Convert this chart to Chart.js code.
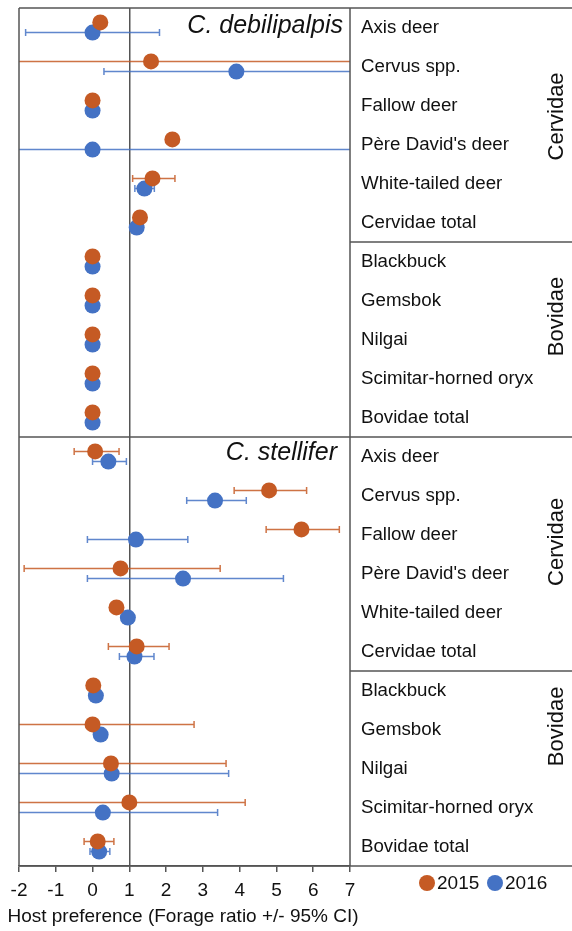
<!DOCTYPE html>
<html>
<head>
<meta charset="utf-8">
<script src="https://cdn.jsdelivr.net/npm/chart.js@4.4.1/dist/chart.umd.min.js"></script>
<style>
  html, body { margin: 0; padding: 0; background: #fff; }
  canvas { display: block; }
</style>
</head>
<body>
<canvas id="c" width="572" height="931"></canvas>
<script>
// ---- data ----
const categories = ['Axis deer', 'Cervus spp.', 'Fallow deer', "Père David's deer", 'White-tailed deer', 'Cervidae total',
                    'Blackbuck', 'Gemsbok', 'Nilgai', 'Scimitar-horned oryx', 'Bovidae total'];
const species = ['C. debilipalpis', 'C. stellifer'];
const families = ['Cervidae', 'Bovidae'];
const years = ['2015', '2016'];
const xTicks = [-2, -1, 0, 1, 2, 3, 4, 5, 6, 7];
const xTitle = 'Host preference (Forage ratio +/- 95% CI)';

// C. debilipalpis
const deb2015   = [0.21, 1.59, 0, 2.17, 1.63, 1.29, 0, 0, 0, 0, 0];
const deb2015Lo = [null, -3, null, null, 1.09, null, null, null, null, null, null];
const deb2015Hi = [null, 8, null, null, 2.24, null, null, null, null, null, null];
const deb2016   = [0, 3.91, 0, 0, 1.41, 1.2, 0, 0, 0, 0, 0];
const deb2016Lo = [-1.82, 0.31, null, -3, 1.15, null, null, null, null, null, null];
const deb2016Hi = [1.82, 8, null, 8, 1.68, null, null, null, null, null, null];

// C. stellifer
const st2015   = [0.07, 4.8, 5.68, 0.76, 0.65, 1.2, 0.02, 0, 0.5, 1.0, 0.14];
const st2015Lo = [-0.5, 3.85, 4.72, -1.86, null, 0.43, null, -3, -3, -3, -0.23];
const st2015Hi = [0.72, 5.82, 6.71, 3.47, null, 2.08, null, 2.76, 3.63, 4.15, 0.58];
const st2016   = [0.43, 3.33, 1.18, 2.46, 0.96, 1.14, 0.09, 0.22, 0.52, 0.28, 0.18];
const st2016Lo = [0, 2.56, -0.14, -0.14, null, 0.73, null, null, -3, -3, -0.07];
const st2016Hi = [0.92, 4.18, 2.59, 5.19, null, 1.67, null, null, 3.7, 3.4, 0.47];

// ---- build ----
const nRows = categories.length;
const rowLabels = categories.concat(categories);
const OFF = 0.13;
function pts(a, b, off) {
  return a.concat(b).map((v, i) => ({ x: v, y: i + 0.5 + off }));
}
const lo2015 = deb2015Lo.concat(st2015Lo), hi2015 = deb2015Hi.concat(st2015Hi);
const lo2016 = deb2016Lo.concat(st2016Lo), hi2016 = deb2016Hi.concat(st2016Hi);

const ORANGE = '#C55A24', BLUE = '#4472C4', LINE = '#555555', TXT = '#111111';
const FONT = "'Liberation Sans', Arial, sans-serif";

const errorBars = {
  id: 'errorBars',
  beforeDatasetsDraw(chart) {
    const { ctx, chartArea: a, scales: { x, y } } = chart;
    ctx.save();
    ctx.beginPath();
    ctx.rect(a.left, a.top, a.right - a.left, a.bottom - a.top);
    ctx.clip();
    chart.data.datasets.forEach(ds => {
      ctx.strokeStyle = ds.backgroundColor;
      ctx.globalAlpha = 0.85;
      ctx.lineWidth = 1.5;
      ds.data.forEach((p, i) => {
        const lo = ds.errLo[i], hi = ds.errHi[i];
        if (lo == null || hi == null) return;
        const py = y.getPixelForValue(p.y);
        const x1 = x.getPixelForValue(lo), x2 = x.getPixelForValue(hi);
        ctx.beginPath();
        ctx.moveTo(x1, py); ctx.lineTo(x2, py);
        [x1, x2].forEach(px => { ctx.moveTo(px, py - 3.5); ctx.lineTo(px, py + 3.5); });
        ctx.stroke();
      });
    });
    ctx.restore();
  }
};

const frame = {
  id: 'frame',
  afterDraw(chart) {
    const { ctx, chartArea: a, scales: { x, y }, width } = chart;
    ctx.save();
    ctx.strokeStyle = LINE;
    ctx.lineWidth = 1.5;
    const h = (yy, x0, x1) => { ctx.beginPath(); ctx.moveTo(x0, yy); ctx.lineTo(x1, yy); ctx.stroke(); };
    // panel boundaries
    [0, nRows, 2 * nRows].forEach(r => h(Math.round(y.getPixelForValue(r)), a.left, width));
    // family separators in label area
    [6, nRows + 6].forEach(r => h(Math.round(y.getPixelForValue(r)), a.right, width));
    // left & right frame
    ctx.beginPath();
    ctx.moveTo(a.left, a.top); ctx.lineTo(a.left, a.bottom);
    ctx.moveTo(a.right, a.top); ctx.lineTo(a.right, a.bottom);
    ctx.stroke();

    // species titles
    ctx.fillStyle = TXT;
    ctx.font = `italic 25px ${FONT}`;
    ctx.textAlign = 'right';
    ctx.textBaseline = 'middle';
    ctx.fillText(species[0], a.right - 7, y.getPixelForValue(0.45));
    ctx.fillText(species[1], a.right - 13, y.getPixelForValue(nRows + 0.42));

    // x-axis title (allowed to extend beyond the plot width)
    ctx.font = `19px ${FONT}`;
    ctx.textAlign = 'center';
    ctx.fillText(xTitle, 183, 917);

    // family labels (rotated)
    ctx.font = `22px ${FONT}`;
    ctx.textAlign = 'center';
    const fam = [[families[0], 2.78], [families[1], 7.91], [families[0], nRows + 2.69], [families[1], nRows + 7.42]];
    fam.forEach(([t, r]) => {
      ctx.save();
      ctx.translate(557, y.getPixelForValue(r));
      ctx.rotate(-Math.PI / 2);
      ctx.fillText(t, 0, 0);
      ctx.restore();
    });

    // legend
    ctx.font = `19px ${FONT}`;
    ctx.textAlign = 'left';
    ctx.textBaseline = 'middle';
    const ly = 883;
    let lx = 427;
    chart.data.datasets.forEach(ds => {
      ctx.fillStyle = ds.backgroundColor;
      ctx.beginPath(); ctx.arc(lx, ly, 8, 0, Math.PI * 2); ctx.fill();
      ctx.fillStyle = TXT;
      ctx.fillText(ds.label, lx + 10, ly + 1);
      lx += 68;
    });
    ctx.restore();
  }
};

new Chart(document.getElementById('c'), {
  type: 'scatter',
  data: {
    datasets: [
      { label: years[0], data: pts(deb2015, st2015, -OFF), errLo: lo2015, errHi: hi2015,
        backgroundColor: ORANGE, borderColor: ORANGE, pointRadius: 8, pointHoverRadius: 8, borderWidth: 0 },
      { label: years[1], data: pts(deb2016, st2016, OFF), errLo: lo2016, errHi: hi2016,
        backgroundColor: BLUE, borderColor: BLUE, pointRadius: 8, pointHoverRadius: 8, borderWidth: 0 }
    ]
  },
  options: {
    responsive: false,
    animation: false,
    devicePixelRatio: 1,
    layout: { padding: { left: 19, top: 8, right: 0, bottom: 0 } },
    plugins: { legend: { display: false }, tooltip: { enabled: false } },
    scales: {
      x: {
        type: 'linear', min: xTicks[0], max: xTicks[xTicks.length - 1],
        afterBuildTicks: s => { s.ticks = xTicks.map(v => ({ value: v })); },
        afterFit: s => { s.height = 65; s.paddingLeft = 0; s.paddingRight = 0; },
        grid: {
          color: c => (c.tick && c.tick.value === 1) ? LINE : 'rgba(0,0,0,0)',
          lineWidth: 1.5, tickColor: LINE, tickLength: 6, drawTicks: true
        },
        border: { display: true, color: LINE, width: 1.5 },
        ticks: { color: TXT, font: { family: FONT, size: 19 }, padding: 7, maxRotation: 0 },
        title: { display: false }
      },
      y: {
        type: 'linear', position: 'right', min: 0, max: 2 * nRows, reverse: true,
        afterBuildTicks: s => { s.ticks = rowLabels.map((_, i) => ({ value: i + 0.5 })); },
        afterFit: s => { s.width = 222; s.paddingTop = 0; s.paddingBottom = 0; },
        grid: { display: false, drawTicks: false },
        border: { display: false },
        ticks: { color: TXT, font: { family: FONT, size: 18.7 }, padding: 11, autoSkip: false,
                 callback: (v, i) => rowLabels[i] }
      }
    }
  },
  plugins: [errorBars, frame]
});
</script>
</body>
</html>
